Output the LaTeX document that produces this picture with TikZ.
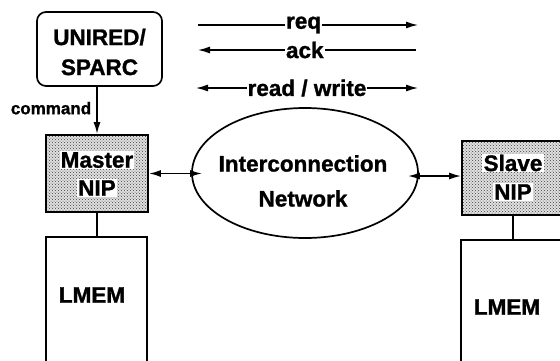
\documentclass[tikz,border=0pt]{standalone}
\usepackage{fontspec}
\setmainfont{Liberation Sans}[BoldFeatures={FakeBold=1.2}]
\usetikzlibrary{shapes.geometric,arrows.meta,patterns}
\tikzset{
  box/.style={draw,line width=1.7pt,inner sep=0pt},
  nipbox/.style={box,preaction={fill=black!12},pattern=crosshatch dots,pattern color=black!75},
  bigtxt/.style={font=\fontsize{22.5}{28}\selectfont\bfseries,inner sep=0pt},
  niptxt/.style={font=\fontsize{22.5}{28}\selectfont\bfseries,fill=white,inner sep=1.2pt},
  conn/.style={line width=1.7pt},
  tip/.style={-{Latex[length=12pt,width=7pt]}},
  dtip/.style={{Latex[length=12pt,width=7pt]}-{Latex[length=12pt,width=7pt]}},
  ltip/.style={{Latex[length=12pt,width=7pt]}-},
  lbl/.style={font=\fontsize{22.5}{25}\selectfont\bfseries,fill=white,inner sep=1pt}
}
\begin{document}
\begin{tikzpicture}[x=1pt,y=-1pt]
\useasboundingbox (0,0) rectangle (560,360);
\clip (0,0) rectangle (560,360);
% host
\node[box,rounded corners=9pt,minimum width=125pt,minimum height=74pt] (host) at (99.5,49) {};
\node[bigtxt,align=center,font=\fontsize{22.5}{30}\selectfont\bfseries] (hostt) at (99.5,52) {UNIRED/\\SPARC};
% master
\node[nipbox,minimum width=102pt,minimum height=77pt] (master) at (97,173.5) {};
\node[niptxt] (mt1) at (97,160) {Master};
\node[niptxt] (mt2) at (97,188) {NIP};
\node[box,minimum width=101pt,minimum height=140pt] (mlmem) at (96.5,307) {};
\node[bigtxt] (mlt) at (92,295) {LMEM};
% slave
\node[nipbox,minimum width=113pt,minimum height=74pt] (slave) at (518.5,178) {};
\node[niptxt] (st1) at (513,163) {Slave};
\node[niptxt] (st2) at (513,192) {NIP};
\node[box,minimum width=115pt,minimum height=140pt] (slmem) at (518.5,310) {};
\node[bigtxt] (slt) at (507,307) {LMEM};
% network
\node[draw,ellipse,line width=1.7pt,minimum width=226pt,minimum height=130pt,inner sep=0pt] (net) at (305,173) {};
\node[bigtxt,align=center,font=\fontsize{22.5}{35}\selectfont\bfseries] (nett) at (303,181) {Interconnection\\Network};
% connections
\draw[conn,tip] (host.south -| 97,0) -- (master.north -| 97,0)
  node[pos=0.45,left=5pt,font=\fontsize{17}{18}\selectfont\bfseries,inner sep=0pt] (cmd) {command};
\draw[conn] (master.south) -- (mlmem.north -| master.south);
\draw[conn] (slave.south -| 513,0) -- (slmem.north -| 513,0);
\coordinate (nl) at ([xshift=11pt]net.west);
\coordinate (nr) at ([xshift=-11pt]net.east);
\draw[conn,dtip] (master.east) -- (nl |- master.east);
\draw[conn,dtip] (nr |- 0,176) -- (slave.west |- 0,176);
% legend arrows
\coordinate (r1) at (198,25); \coordinate (r2) at (418,25);
\coordinate (a1) at (198,50); \coordinate (a2) at (416,50);
\coordinate (w1) at (196,88); \coordinate (w2) at (418,88);
\draw[conn,line width=1.3pt,tip] (r1) -- (r2) node[lbl,pos=0.48] (req) {req};
\draw[conn,line width=1.3pt,ltip] (a1) -- (a2) node[lbl,pos=0.49] (ack) {ack};
\draw[conn,line width=1.3pt,dtip] (w1) -- (w2) node[lbl,pos=0.5] (rw) {read / write};
\end{tikzpicture}
\end{document}
